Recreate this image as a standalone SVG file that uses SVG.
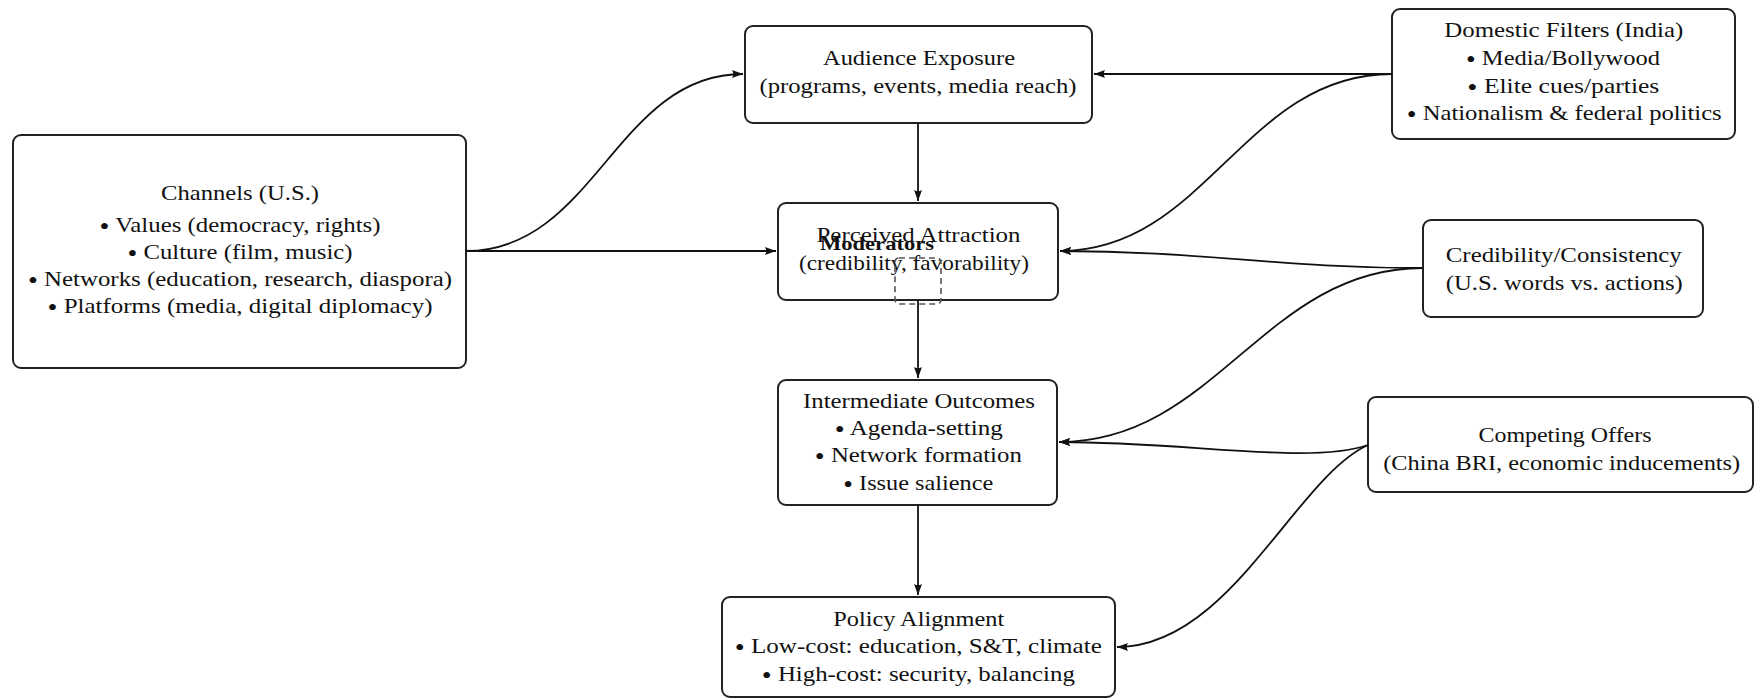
<svg xmlns="http://www.w3.org/2000/svg" width="1755" height="699" viewBox="0 0 1755 699">
<style>
.box{fill:#fff;stroke:#222;stroke-width:2}
.t{font-family:"Liberation Serif","Times New Roman",serif;font-size:22px;fill:#111;text-anchor:middle}
.bu{font-size:25px;baseline-shift:-3px}
.b{font-family:"Liberation Serif","Times New Roman",serif;font-size:19px;font-weight:bold;fill:#111;text-anchor:middle}
.c{fill:none;stroke:#111;stroke-width:1.8}
.dash{fill:none;stroke:#555;stroke-width:1.6;stroke-dasharray:6 4}
</style>
<defs>
<marker id="ah" markerUnits="userSpaceOnUse" markerWidth="12" markerHeight="8" refX="11" refY="4" orient="auto">
<path d="M0,0 L11,4 L0,8 Q2.5,4 0,0 z" fill="#111"/>
</marker>
</defs>
<rect width="1755" height="699" fill="#fff"/>

<g id="channels">
<rect class="box" x="13" y="135" width="453" height="233" rx="8"/>
<text class="t" x="240" y="200" textLength="158" lengthAdjust="spacingAndGlyphs">Channels (U.S.)</text>
<text class="t" x="240" y="232" textLength="281" lengthAdjust="spacingAndGlyphs"><tspan class="bu">•</tspan> Values (democracy, rights)</text>
<text class="t" x="240" y="259" textLength="225" lengthAdjust="spacingAndGlyphs"><tspan class="bu">•</tspan> Culture (film, music)</text>
<text class="t" x="240" y="286" textLength="424" lengthAdjust="spacingAndGlyphs"><tspan class="bu">•</tspan> Networks (education, research, diaspora)</text>
<text class="t" x="240" y="313" textLength="385" lengthAdjust="spacingAndGlyphs"><tspan class="bu">•</tspan> Platforms (media, digital diplomacy)</text>
</g>

<g id="audience">
<rect class="box" x="745" y="26" width="347" height="97" rx="8"/>
<text class="t" x="919" y="65" textLength="192" lengthAdjust="spacingAndGlyphs">Audience Exposure</text>
<text class="t" x="918" y="93" textLength="317" lengthAdjust="spacingAndGlyphs">(programs, events, media reach)</text>
</g>

<g id="perceived">
<rect class="box" x="778" y="203" width="280" height="97" rx="8"/>
<text class="t" x="918.5" y="242" textLength="204" lengthAdjust="spacingAndGlyphs">Perceived Attraction</text>
<text class="t" x="914" y="270" textLength="230" lengthAdjust="spacingAndGlyphs">(credibility, favorability)</text>
</g>

<g id="intermediate">
<rect class="box" x="778" y="380" width="279" height="125" rx="8"/>
<text class="t" x="919" y="408" textLength="232" lengthAdjust="spacingAndGlyphs">Intermediate Outcomes</text>
<text class="t" x="918.8" y="435" textLength="168" lengthAdjust="spacingAndGlyphs"><tspan class="bu">•</tspan> Agenda-setting</text>
<text class="t" x="918.3" y="462" textLength="207" lengthAdjust="spacingAndGlyphs"><tspan class="bu">•</tspan> Network formation</text>
<text class="t" x="918.3" y="490" textLength="150" lengthAdjust="spacingAndGlyphs"><tspan class="bu">•</tspan> Issue salience</text>
</g>

<g id="policy">
<rect class="box" x="722" y="597" width="393" height="100" rx="8"/>
<text class="t" x="918.7" y="626" textLength="171" lengthAdjust="spacingAndGlyphs">Policy Alignment</text>
<text class="t" x="918.3" y="653" textLength="367" lengthAdjust="spacingAndGlyphs"><tspan class="bu">•</tspan> Low-cost: education, S&amp;T, climate</text>
<text class="t" x="918.3" y="681" textLength="313" lengthAdjust="spacingAndGlyphs"><tspan class="bu">•</tspan> High-cost: security, balancing</text>
</g>

<g id="domestic">
<rect class="box" x="1392" y="9" width="343" height="130" rx="8"/>
<text class="t" x="1563.8" y="37" textLength="239" lengthAdjust="spacingAndGlyphs">Domestic Filters (India)</text>
<text class="t" x="1563" y="65" textLength="194" lengthAdjust="spacingAndGlyphs"><tspan class="bu">•</tspan> Media/Bollywood</text>
<text class="t" x="1563.3" y="93" textLength="192" lengthAdjust="spacingAndGlyphs"><tspan class="bu">•</tspan> Elite cues/parties</text>
<text class="t" x="1564.2" y="120" textLength="315" lengthAdjust="spacingAndGlyphs"><tspan class="bu">•</tspan> Nationalism &amp; federal politics</text>
</g>

<g id="credibility">
<rect class="box" x="1423" y="220" width="280" height="97" rx="8"/>
<text class="t" x="1563.8" y="262" textLength="236" lengthAdjust="spacingAndGlyphs">Credibility/Consistency</text>
<text class="t" x="1564.3" y="290" textLength="237" lengthAdjust="spacingAndGlyphs">(U.S. words vs. actions)</text>
</g>

<g id="competing">
<rect class="box" x="1368" y="397" width="385" height="95" rx="8"/>
<text class="t" x="1565" y="442" textLength="173" lengthAdjust="spacingAndGlyphs">Competing Offers</text>
<text class="t" x="1561.7" y="470" textLength="357" lengthAdjust="spacingAndGlyphs">(China BRI, economic inducements)</text>
</g>

<g id="moderators">
<text class="b" x="877" y="250" textLength="114" lengthAdjust="spacingAndGlyphs">Moderators</text>
<rect class="dash" x="895" y="258" width="46" height="46" rx="4"/>
</g>

<g id="connectors">
<path class="c" d="M466,251 C595,251 616,74 743,74" marker-end="url(#ah)"/>
<path class="c" d="M466,251 L776,251" marker-end="url(#ah)"/>
<path class="c" d="M918,123 L918,201" marker-end="url(#ah)"/>
<path class="c" d="M918,300 L918,378" marker-end="url(#ah)"/>
<path class="c" d="M918,505 L918,595" marker-end="url(#ah)"/>
<path class="c" d="M1392,74 L1094,74" marker-end="url(#ah)"/>
<path class="c" d="M1392,74 C1244,74 1206,251 1060,251" marker-end="url(#ah)"/>
<path class="c" d="M1423,268 C1280,268 1201,251 1060,251" marker-end="url(#ah)"/>
<path class="c" d="M1423,268 C1264,268 1216,442 1059,442" marker-end="url(#ah)"/>
<path class="c" d="M1368,445 C1310,465 1190,442 1059,442" marker-end="url(#ah)"/>
<path class="c" d="M1368,445 C1295,478 1230,647 1117,647" marker-end="url(#ah)"/>
</g>
</svg>
